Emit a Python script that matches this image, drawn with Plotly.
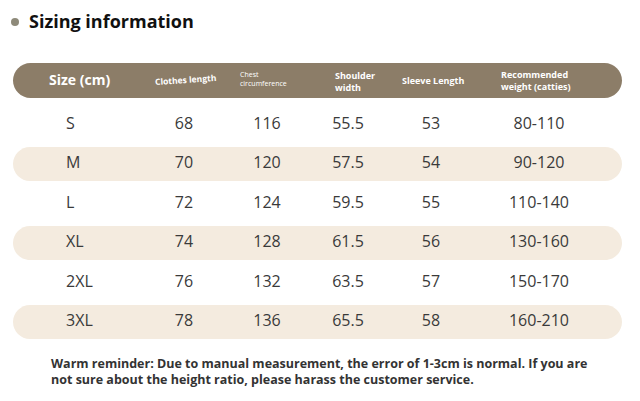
import plotly.graph_objects as go

# table data
sizes = ["S", "M", "L", "XL", "2XL", "3XL"]
clothes_length = [68, 70, 72, 74, 76, 78]
chest = [116, 120, 124, 128, 132, 136]
shoulder = [55.5, 57.5, 59.5, 61.5, 63.5, 65.5]
sleeve = [53, 54, 55, 56, 57, 58]
weight = ["80-110", "90-120", "110-140", "130-160", "150-170", "160-210"]

title = "Sizing information"
note = ("Warm reminder: Due to manual measurement, the error of 1-3cm is normal. If you are<br>"
        "not sure about the height ratio, please harass the customer service.")

W, H = 640, 401
FONT = "Open Sans"
TXT = "#3a3a3a"
HEAD = "#8c7d68"
BAND = "#f4ebdf"

row0, step = 124.5, 39.5
row_y = [row0 + i * step for i in range(len(sizes))]
col_x = [66, 184, 267, 348, 431, 539]


def pill(x0, x1, yc, h):
    r = h / 2
    k = 0.552 * r
    y0, y1 = yc - r, yc + r
    return (f"M {x0 + r},{y0} L {x1 - r},{y0} "
            f"C {x1 - r + k},{y0} {x1},{yc - k} {x1},{yc} "
            f"C {x1},{yc + k} {x1 - r + k},{y1} {x1 - r},{y1} "
            f"L {x0 + r},{y1} "
            f"C {x0 + r - k},{y1} {x0},{yc + k} {x0},{yc} "
            f"C {x0},{yc - k} {x0 + r - k},{y0} {x0 + r},{y0} Z")


fig = go.Figure()

shapes = [dict(type="path", path=pill(13, 622, 80.5, 35), fillcolor=HEAD,
               line=dict(width=0), layer="below")]
for i, y in enumerate(row_y):
    if i % 2 == 1:
        shapes.append(dict(type="path", path=pill(13, 622, y, 34), fillcolor=BAND,
                           line=dict(width=0), layer="below"))

# bullet
fig.add_trace(go.Scatter(x=[15], y=[22], mode="markers",
                         marker=dict(size=8, color="#8e8a7a"), hoverinfo="skip"))

# first column, left aligned
fig.add_trace(go.Scatter(x=[col_x[0]] * len(sizes), y=row_y, mode="text", text=sizes,
                         textposition="middle right",
                         textfont=dict(family=FONT, size=16, color=TXT), hoverinfo="skip"))

cols = [clothes_length, chest, shoulder, sleeve, weight]
for cx, vals in zip(col_x[1:], cols):
    fig.add_trace(go.Scatter(x=[cx] * len(vals), y=row_y, mode="text",
                             text=[str(v) for v in vals], textposition="middle center",
                             textfont=dict(family=FONT, size=16, color=TXT), hoverinfo="skip"))

ann = []
ann.append(dict(x=27, y=21, text=f"<b>{title}</b>", xanchor="left", yanchor="middle",
                font=dict(family=FONT, size=18, color="#111111")))
white = "#ffffff"
ann.append(dict(x=79, y=79, text="<b>Size (cm)</b>", xanchor="center",
                font=dict(family=FONT, size=14, color=white)))
ann.append(dict(x=185, y=79, text="<b>Clothes length</b>", xanchor="center", textangle=-4,
                font=dict(family=FONT, size=8.5, color=white)))
ann.append(dict(x=238, y=79, text="Chest<br>circumference", xanchor="left", align="left",
                font=dict(family=FONT, size=7, color=white)))
ann.append(dict(x=333, y=81, text="<b>Shoulder<br>width</b>", xanchor="left", align="left",
                font=dict(family=FONT, size=9, color=white)))
ann.append(dict(x=433, y=80, text="<b>Sleeve Length</b>", xanchor="center",
                font=dict(family=FONT, size=9, color=white)))
ann.append(dict(x=499, y=80, text="<b>Recommended<br>weight (catties)</b>", xanchor="left",
                align="left", font=dict(family=FONT, size=9, color=white)))
ann.append(dict(x=49, y=371, text=f"<b>{note}</b>", xanchor="left", align="left",
                font=dict(family=FONT, size=12.5, color="#333333")))
for a in ann:
    a.setdefault("yanchor", "middle")
    a["showarrow"] = False
    a["xref"] = "x"
    a["yref"] = "y"

fig.update_layout(
    width=W, height=H, margin=dict(l=0, r=0, t=0, b=0),
    paper_bgcolor="white", plot_bgcolor="white", showlegend=False,
    xaxis=dict(range=[0, W], visible=False, fixedrange=True),
    yaxis=dict(range=[H, 0], visible=False, fixedrange=True),
    shapes=shapes, annotations=ann,
)

fig.write_html("out.html", config={"displayModeBar": False},
               post_script="document.body.style.margin='0';")
